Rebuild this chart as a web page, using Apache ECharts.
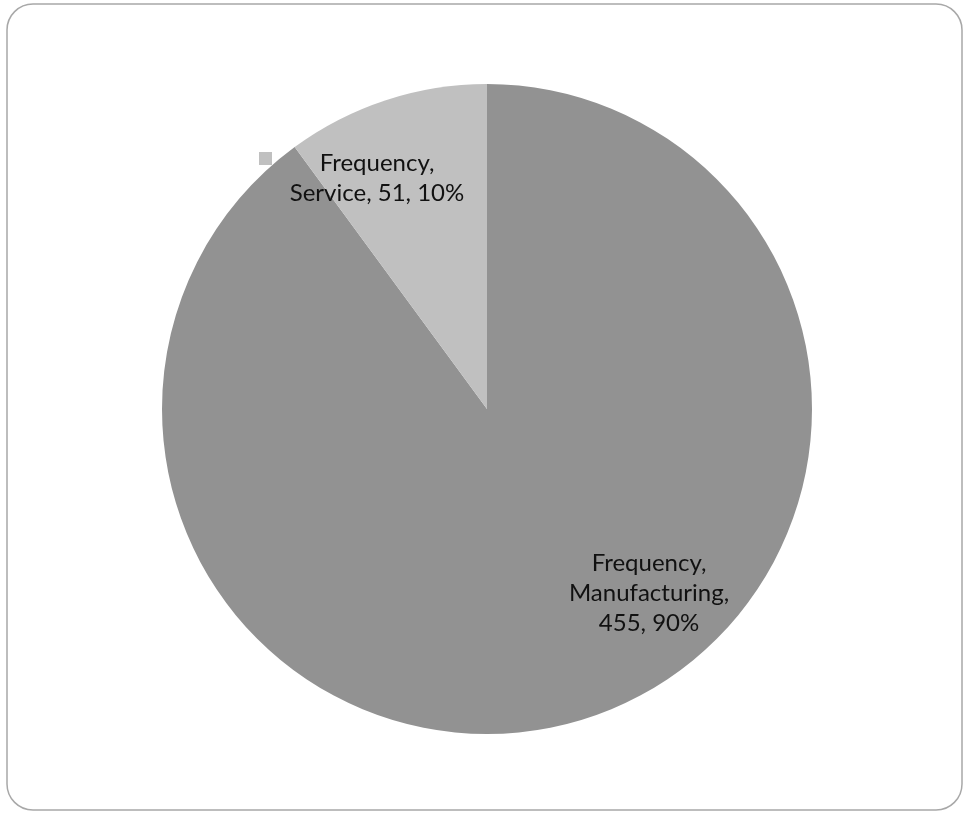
<!DOCTYPE html>
<html>
<head>
<meta charset="utf-8">
<script src="https://cdn.jsdelivr.net/npm/echarts@6/dist/echarts.min.js"></script>
<style>
  html, body { margin: 0; padding: 0; background: #fff; }
  #chart { width: 966px; height: 814px; }
</style>
</head>
<body>
<div id="chart"></div>
<script>
const seriesName = 'Frequency';
const categories = ['Manufacturing', 'Service'];
const values = [455, 51];
const colors = ['#929292', '#c0c0c0'];

// where each label sits (center of text block)
const labelSpots = [
  { x: 649, y: 593, breakName: true },
  { x: 377, y: 178, breakName: false }
];

const chart = echarts.init(document.getElementById('chart'));

const option = {
  backgroundColor: '#fff',
  animation: false,
  graphic: [
    {
      type: 'rect',
      shape: { x: 7, y: 4, width: 955, height: 806, r: 26 },
      style: { fill: 'none', stroke: '#a8a8a8', lineWidth: 1.5 }
    },
    {
      type: 'rect',
      shape: { x: 259, y: 152, width: 13, height: 13 },
      style: { fill: colors[1] }
    }
  ],
  series: [
    {
      name: seriesName,
      type: 'pie',
      center: [487, 409],
      radius: [0, 325],
      startAngle: 90,
      clockwise: true,
      silent: true,
      itemStyle: { borderWidth: 0 },
      labelLine: { show: false },
      label: {
        show: true,
        position: 'inside',
        fontFamily: 'Lato',
        fontSize: 24,
        lineHeight: 30,
        color: '#111',
        align: 'center',
        formatter: function (p) {
          const pct = Math.round(p.percent) + '%';
          if (labelSpots[p.dataIndex].breakName) {
            return p.seriesName + ',\n' + p.name + ',\n' + p.value + ', ' + pct;
          }
          return p.seriesName + ',\n' + p.name + ', ' + p.value + ', ' + pct;
        }
      },
      labelLayout: function (params) {
        const s = labelSpots[params.dataIndex];
        return { x: s.x, y: s.y, align: 'center', verticalAlign: 'middle' };
      },
      data: categories.map((c, i) => ({
        name: c,
        value: values[i],
        itemStyle: { color: colors[i] }
      }))
    }
  ]
};

chart.setOption(option);
</script>
</body>
</html>
